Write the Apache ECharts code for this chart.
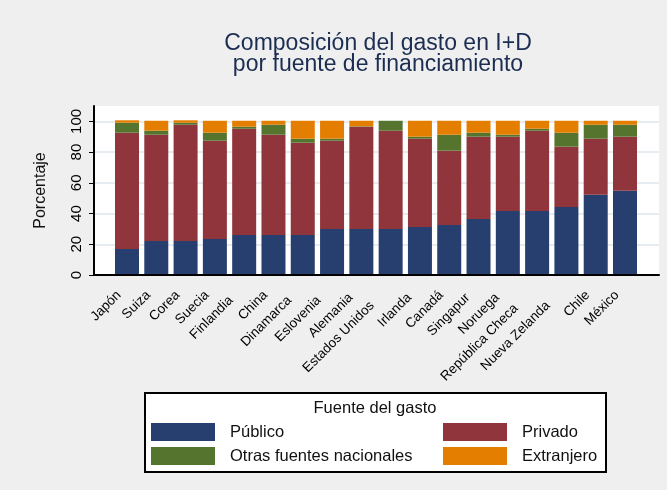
<!DOCTYPE html>
<html>
<head>
<meta charset="utf-8">
<script src="https://cdn.jsdelivr.net/npm/echarts@6/dist/echarts.min.js"></script>
<style>
  html, body { margin: 0; padding: 0; background: #efefef; }
  #chart { width: 667px; height: 490px; }
</style>
</head>
<body>
<div id="chart"></div>
<script>
// datos (porcentaje del gasto en I+D)
var categories = ["Japón", "Suiza", "Corea", "Suecia", "Finlandia", "China", "Dinamarca", "Eslovenia", "Alemania",
  "Estados Unidos", "Irlanda", "Canadá", "Singapur", "Noruega", "República Checa", "Nueva Zelanda", "Chile", "México"];
var publico = [17.0, 22.2, 22.2, 23.5, 26.1, 26.1, 26.1, 30.0, 30.0, 30.0, 31.3, 32.6, 36.5, 41.7, 41.7, 44.3, 52.2, 54.8];
var privado = [75.6, 69.1, 75.6, 63.9, 69.1, 65.2, 60.0, 57.4, 66.5, 63.9, 57.4, 48.3, 53.5, 48.3, 52.2, 39.2, 36.5, 35.2];
var otras = [6.5, 2.6, 1.3, 5.2, 1.3, 6.5, 2.6, 1.3, 0.3, 6.5, 1.3, 10.4, 2.6, 1.3, 1.3, 9.1, 9.1, 7.8];
var extranjero = [1.6, 6.5, 1.6, 7.8, 3.9, 2.6, 11.7, 11.7, 3.6, 0, 10.4, 9.1, 7.8, 9.1, 5.2, 7.8, 2.6, 2.6];
var yTicks = [0, 20, 40, 60, 80, 100];

var font = "'Liberation Sans', Arial, sans-serif";
var black = "#000";
var colors = ["#263f6e", "#90353b", "#55752f", "#e37e00"];

var chart = echarts.init(document.getElementById("chart"));

var option = {
  backgroundColor: "#efefef",
  animation: false,
  textStyle: { fontFamily: font },
  title: {
    text: "Composición del gasto en I+D\npor fuente de financiamiento",
    left: 373,
    top: 28,
    textAlign: "center",
    textStyle: {
      fontFamily: font,
      fontSize: 23,
      fontWeight: "normal",
      lineHeight: 21,
      color: "#1c2d52"
    }
  },
  grid: [
    // area blanca, ejes y rejilla
    { left: 94, right: 8, top: 106, bottom: 215, show: true, backgroundColor: "#fff", borderWidth: 0 },
    // barras
    { left: 112.35, right: 27.35, top: 106, bottom: 215 }
  ],
  xAxis: [
    {
      gridIndex: 0,
      type: "category",
      data: categories,
      z: 10,
      axisLine: { show: true, lineStyle: { color: black, width: 2 } },
      axisTick: { show: false },
      axisLabel: { show: false },
      splitLine: { show: false }
    },
    {
      gridIndex: 1,
      type: "category",
      data: categories,
      axisLine: { show: false },
      axisTick: { show: false },
      axisLabel: {
        interval: 0,
        rotate: 45,
        margin: 10,
        fontSize: 13.5,
        color: black,
        fontFamily: font,
        formatter: function(v) {
          return v + " ".repeat(Math.round(v.length * 0.5));
        }
      }
    }
  ],
  yAxis: [
    {
      gridIndex: 0,
      type: "value",
      min: 0,
      max: 110,
      interval: 20,
      name: "Porcentaje",
      nameLocation: "middle",
      nameGap: 45,
      nameTextStyle: { fontFamily: font, fontSize: 16, color: "#111" },
      axisLine: { show: true, lineStyle: { color: black, width: 2 } },
      axisTick: { show: true, length: 5, customValues: yTicks, lineStyle: { color: black } },
      axisLabel: {
        customValues: yTicks,
        rotate: 90,
        margin: 10,
        fontSize: 15,
        color: black,
        fontFamily: font
      },
      splitLine: {
        show: true,
        lineStyle: { color: "#dfe4ee", width: 1.5 }
      }
    },
    {
      gridIndex: 1,
      type: "value",
      min: 0,
      max: 110,
      show: false
    }
  ],
  legend: [
    {
      data: ["Público", "Otras fuentes nacionales"],
      orient: "vertical",
      left: 151,
      top: 423,
      padding: 0,
      itemWidth: 64,
      itemHeight: 18,
      itemGap: 6,
      icon: "rect",
      selectedMode: false,
      textStyle: { fontFamily: font, fontSize: 16.5, color: "#111", padding: [0, 0, 0, 10] }
    },
    {
      data: ["Privado", "Extranjero"],
      orient: "vertical",
      left: 443,
      top: 423,
      padding: 0,
      itemWidth: 64,
      itemHeight: 18,
      itemGap: 6,
      icon: "rect",
      selectedMode: false,
      textStyle: { fontFamily: font, fontSize: 16.5, color: "#111", padding: [0, 0, 0, 10] }
    }
  ],
  graphic: [
    {
      type: "rect",
      z: -1,
      shape: { x: 145, y: 393, width: 461, height: 79 },
      style: { fill: "#fff", stroke: black, lineWidth: 2 }
    },
    {
      type: "text",
      x: 375,
      y: 408,
      style: {
        text: "Fuente del gasto",
        fontFamily: font,
        fontSize: 16.5,
        fill: "#111",
        align: "center",
        verticalAlign: "middle"
      }
    }
  ],
  series: [
    { name: "Público", type: "bar", stack: "total", xAxisIndex: 1, yAxisIndex: 1, barWidth: 24, itemStyle: { color: colors[0] }, data: publico },
    { name: "Privado", type: "bar", stack: "total", xAxisIndex: 1, yAxisIndex: 1, barWidth: 24, itemStyle: { color: colors[1] }, data: privado },
    { name: "Otras fuentes nacionales", type: "bar", stack: "total", xAxisIndex: 1, yAxisIndex: 1, barWidth: 24, itemStyle: { color: colors[2] }, data: otras },
    { name: "Extranjero", type: "bar", stack: "total", xAxisIndex: 1, yAxisIndex: 1, barWidth: 24, itemStyle: { color: colors[3] }, data: extranjero }
  ]
};

chart.setOption(option);
</script>
</body>
</html>
